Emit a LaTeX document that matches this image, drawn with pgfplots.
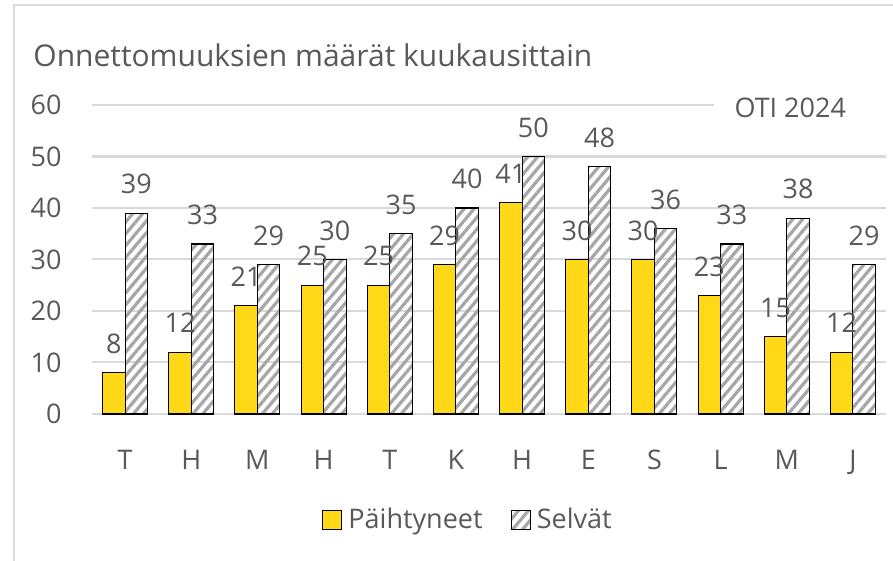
\documentclass[border=0pt]{standalone}
\usepackage{fontspec}
\setmainfont{Open Sans}
\usepackage{pgfplots}
\pgfplotsset{compat=1.18}
\usetikzlibrary{patterns.meta}
\definecolor{txt}{HTML}{595959}
\definecolor{grd}{HTML}{D9D9D9}
\definecolor{ylw}{HTML}{FFD817}
\definecolor{hatch}{HTML}{A6A6A6}
\newcommand{\fs}{\fontsize{13.5}{16}\selectfont}
\begin{document}
\begin{tikzpicture}
\path[use as bounding box] (0pt,0pt) rectangle (446.5pt,280.5pt);
\draw[grd, line width=1pt] (7pt,0pt) -- (7pt,278pt) -- (446.5pt,278pt);
\node[anchor=base west, inner sep=0pt, text=txt, font=\fontsize{15}{18}\selectfont] at (16.5pt,247pt) {Onnettomuuksien määrät kuukausittain};
\begin{axis}[
  at={(46pt,73.5pt)}, anchor=south west,
  scale only axis, width=397pt, height=154.5pt,
  xmin=-0.5, xmax=11.5, ymin=0, ymax=60,
  ytick={0,10,...,60},
  xtick={0,...,11},
  xticklabels={T,H,M,H,T,K,H,E,S,L,M,J},
  major tick length=0pt,
  axis line style={draw=none},
  ymajorgrids, grid style={grd, line width=1pt},
  /pgf/number format/assume math mode=true,
  tick label style={text=txt, font=\fs},
  yticklabel style={anchor=east, inner sep=0pt, xshift=-15pt},
  xticklabel style={anchor=north, inner sep=0pt, yshift=-18pt},
  ybar, bar width=11.25pt,
  nodes near coords,
  every node near coord/.append style={text=txt, font=\fs, yshift=6pt},
  clip=false,
  legend style={draw=none, fill=none, at={(0.476,-0.343)}, anchor=center,
    legend columns=2, font=\fs, text=txt,
    /tikz/every even column/.append style={column sep=11pt},
    nodes={inner sep=3pt}},
  legend image code/.code={\draw[#1, line width=0.6pt] (0pt,-4.75pt) rectangle (9.5pt,4.75pt);},
]
\addplot[bar shift=-5.625pt, fill=ylw, draw=black, line width=0.55pt]
  coordinates {(0,8) (1,12) (2,21) (3,25) (4,25) (5,29) (6,41) (7,30) (8,30) (9,23) (10,15) (11,12)};
\addplot[bar shift=5.625pt, draw=black, line width=0.55pt,
  pattern={Lines[angle=50,distance=3.8pt,line width=1.6pt]}, pattern color=hatch]
  coordinates {(0,39) (1,33) (2,29) (3,30) (4,35) (5,40) (6,50) (7,48) (8,36) (9,33) (10,38) (11,29)};
\legend{Päihtyneet, Selvät}
\end{axis}
\fill[white] (357pt,212pt) rectangle (446.5pt,236pt);
\node[anchor=base east, inner sep=0pt, outer sep=0pt, text=txt, font=\fs] at (423pt,221.5pt) {OTI 2024};
\end{tikzpicture}
\end{document}
